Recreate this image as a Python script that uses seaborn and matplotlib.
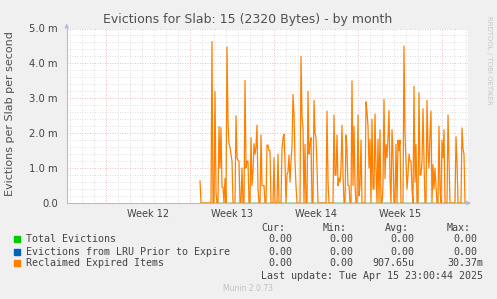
import datetime
import matplotlib
matplotlib.use("Agg")
import matplotlib.pyplot as plt
import matplotlib.dates as mdates
import matplotlib.transforms as mtransforms
import pandas as pd
import seaborn as sns

# Reclaimed expired items, milli-evictions per second, one sample per 2 hours
# (one row = one day)
reclaimed = [
    0.64, 0, 0, 0, 0, 0, 0, 0, 0, 0, 0, 0,
    4.63, 0, 0, 3.19, 0.3, 0, 0, 2.19, 1.0, 2.16, 0.45, 0.45,
    0, 0.7, 0, 4.47, 2.3, 1.7, 1.6, 1.4, 1.2, 0, 0, 0,
    2.5, 1.3, 1.22, 1.2, 0, 0, 1.0, 0, 0, 3.51, 1.0, 1.2,
    1.2, 0, 0, 1.87, 0.5, 0.9, 1.7, 1.4, 1.6, 2.23, 0.4, 0,
    0, 1.95, 0.5, 0.5, 0.5, 0, 0, 1.66, 1.66, 1.5, 1.5, 0,
    0, 0, 1.3, 0, 0, 0, 1.4, 0, 0, 0, 1.55, 1.87,
    1.97, 1.2, 0, 0.81, 0.9, 1.37, 0.6, 1.2, 1.6, 3.11, 2.55, 1.2,
    0.5, 0, 0, 0, 0, 4.2, 2.5, 2.16, 0, 1.68, 0, 0,
    3.2, 1.4, 1.68, 1.87, 0, 0, 2.94, 2.0, 1.87, 1.0, 0, 0,
    0, 0, 0, 0, 0, 0, 0, 2.63, 0.65, 0, 0, 0,
    0, 0, 2.52, 0.8, 0.8, 1.95, 0.5, 0.7, 0.6, 1.0, 2.23, 0.8,
    0, 0, 1.95, 1.5, 0.5, 0.5, 0, 0, 3.5, 0.5, 2.2, 0.5,
    0, 0, 2.52, 0.2, 0.5, 1.8, 0, 0, 0, 0, 2.9, 2.6,
    2.2, 1.0, 1.83, 0, 2.4, 0.4, 0.4, 2.55, 1.0, 0, 1.83, 0,
    2.1, 0, 0, 0.5, 2.97, 0.7, 1.68, 1.3, 1.87, 2.65, 0.7, 0,
    2.1, 1.4, 0, 0, 1.68, 0, 1.8, 1.5, 1.8, 0, 0, 0,
    4.5, 2.0, 1.2, 0.4, 0.8, 1.4, 1.2, 1.2, 0.4, 0, 3.35, 0.6,
    1.68, 0, 0, 3.16, 0.8, 0.8, 1.2, 2.7, 1.2, 0, 0, 2.94,
    1.5, 1.0, 1.97, 2.63, 0, 1.1, 0.4, 1.0, 0.5, 0, 0, 2.2,
    0.4, 0, 1.8, 1.3, 2.1, 0, 0, 0, 2.52, 1.2, 0, 0,
    0, 0, 0, 0, 1.9, 1.2, 0, 0, 0, 0, 2.15, 1.55,
    1.4, 0,
]
total_evictions = [0.0] * len(reclaimed)
lru_evictions = [0.0] * len(reclaimed)

series_start = "2025-03-24 20:00"
view_start = "2025-03-13 17:24"
view_end = "2025-04-16 04:00"
weeks = [12, 13, 14, 15]
y_ticks = [0, 1, 2, 3, 4, 5]
y_labels = ["0.0", "1.0 m", "2.0 m", "3.0 m", "4.0 m", "5.0 m"]

legend_names = ["Total Evictions", "Evictions from LRU Prior to Expire",
                "Reclaimed Expired Items"]
legend_colors = ["#00cc00", "#0066b3", "#ff8000"]
cur_vals = ["0.00", "0.00", "0.00"]
min_vals = ["0.00", "0.00", "0.00"]
avg_vals = ["0.00", "0.00", "907.65u"]
max_vals = ["0.00", "0.00", "30.37m"]
last_update = "Last update: Tue Apr 15 23:00:44 2025"

BG = "#f0f0f0"
TXT = "#444444"
MINOR = "#d4d4d4"
MAJOR = "#eaa6a6"
AXIS = "#b8b8e8"

sns.set_theme(style="white")
plt.rcParams["font.family"] = ["DejaVu Sans"]

times = pd.date_range(series_start, periods=len(reclaimed), freq="2h")
df = pd.DataFrame({"time": times, "total": total_evictions,
                   "lru": lru_evictions, "reclaimed": reclaimed})

W, H = 497, 299
fig = plt.figure(figsize=(W / 100, H / 100), dpi=100, facecolor=BG)
ax = fig.add_axes([66.7 / W, 1 - 203 / H, (468 - 66.7) / W, (203 - 28.5) / H])
ax.set_facecolor("white")

x0, x1 = pd.Timestamp(view_start), pd.Timestamp(view_end)

# grid: days / weeks and 0.2 m / 1 m
days = pd.date_range(x0.ceil("D"), x1, freq="D")
mondays = [d for d in days if d.weekday() == 0]
for d in days:
    if d.weekday() != 0:
        ax.axvline(d, color=MINOR, lw=0.6, ls=(0, (1, 2)), zorder=0)
for d in mondays:
    ax.axvline(d, color=MAJOR, lw=0.6, ls=(0, (1, 2)), zorder=0)
for k in range(1, 26):
    v = k * 0.2
    if k % 5:
        ax.axhline(v, color=MINOR, lw=0.6, ls=(0, (1, 2)), zorder=0)
    else:
        ax.axhline(v, color=MAJOR, lw=0.6, ls=(0, (1, 2)), zorder=0)

sns.lineplot(data=df, x="time", y="total", color=legend_colors[0], lw=1.0, ax=ax, zorder=3)
sns.lineplot(data=df, x="time", y="lru", color=legend_colors[1], lw=1.0, alpha=0.6, ax=ax, zorder=4)
sns.lineplot(data=df, x="time", y="reclaimed", color=legend_colors[2], lw=0.9, ax=ax, zorder=5)

ax.set_xlim(x0, x1)
ax.set_ylim(0, 5.0)
ax.set_xlabel("")
ax.set_ylabel("")

ax.set_yticks(y_ticks)
ax.set_yticklabels(y_labels, fontsize=7.2, color=TXT)
ax.set_yticks([k * 0.2 for k in range(26)], minor=True)
ax.set_xticks(mondays)
ax.set_xticklabels([])
ax.set_xticks(days, minor=True)
ax.tick_params(axis="both", which="major", direction="inout", length=3,
               width=0.6, color=MAJOR, pad=3)
ax.tick_params(axis="both", which="minor", direction="inout", length=2,
               width=0.6, color=MINOR)
ax.tick_params(axis="y", which="major", pad=5)

# week labels at mid-week
trans = mtransforms.blended_transform_factory(ax.transData, ax.transAxes)
for w in weeks:
    mid = pd.Timestamp(datetime.date.fromisocalendar(2025, w, 1)) + pd.Timedelta(hours=84)
    ax.text(mdates.date2num(mid), -0.035, f"Week {w}", transform=trans,
            ha="center", va="top", fontsize=7.0, color=TXT)

for side in ["top", "right"]:
    ax.spines[side].set_visible(False)
for side in ["left", "bottom"]:
    ax.spines[side].set_color(AXIS)
    ax.spines[side].set_linewidth(0.8)
ax.annotate("", xy=(0, 1.045), xytext=(0, 0.99), xycoords="axes fraction",
            arrowprops=dict(arrowstyle="-|>", color=AXIS, lw=0.8, mutation_scale=6))
ax.annotate("", xy=(1.015, 0), xytext=(0.99, 0), xycoords="axes fraction",
            arrowprops=dict(arrowstyle="-|>", color=AXIS, lw=0.8, mutation_scale=6))

# titles
fig.text(248 / W, 1 - 19 / H, "Evictions for Slab: 15 (2320 Bytes) - by month",
         ha="center", va="center", fontsize=9, color="#505050")
fig.text(10 / W, 1 - 114 / H, "Evictions per Slab per second", rotation=90,
         ha="center", va="center", fontsize=8, color="#505050")
fig.text(489 / W, 1 - 16 / H, "RRDTOOL / TOBI OETIKER", rotation=270,
         ha="center", va="top", fontsize=5, color="#c8c8c8")

# legend table
mono = dict(family="DejaVu Sans Mono", fontsize=7.2, color=TXT, va="center")
fig.text(261.7 / W, 1 - 227.7 / H, "Cur:", **mono)
fig.text(323 / W, 1 - 227.7 / H, "Min:", **mono)
fig.text(385 / W, 1 - 227.7 / H, "Avg:", **mono)
fig.text(446.7 / W, 1 - 227.7 / H, "Max:", **mono)
row_y = [239.3, 251.7, 263.3]
for i, name in enumerate(legend_names):
    y = 1 - row_y[i] / H
    fig.patches.append(plt.Rectangle((14 / W, y - 3 / H), 6 / W, 6 / H,
                                     transform=fig.transFigure,
                                     color=legend_colors[i], figure=fig))
    fig.text(26 / W, y, name, **mono)
    fig.text(292 / W, y, cur_vals[i], ha="right", **mono)
    fig.text(353.5 / W, y, min_vals[i], ha="right", **mono)
    fig.text(414.5 / W, y, avg_vals[i], ha="right", **mono)
    fig.text((477 if max_vals[i].endswith("0") else 483) / W, y, max_vals[i],
             ha="right", **mono)
fig.text(483 / W, 1 - 275.7 / H, last_update, ha="right", **mono)
fig.text(248 / W, 1 - 288.5 / H, "Munin 2.0.73", ha="center", va="center",
         fontsize=5.5, color="#c0c0c0")

fig.savefig("out.png", dpi=100, facecolor=BG)
